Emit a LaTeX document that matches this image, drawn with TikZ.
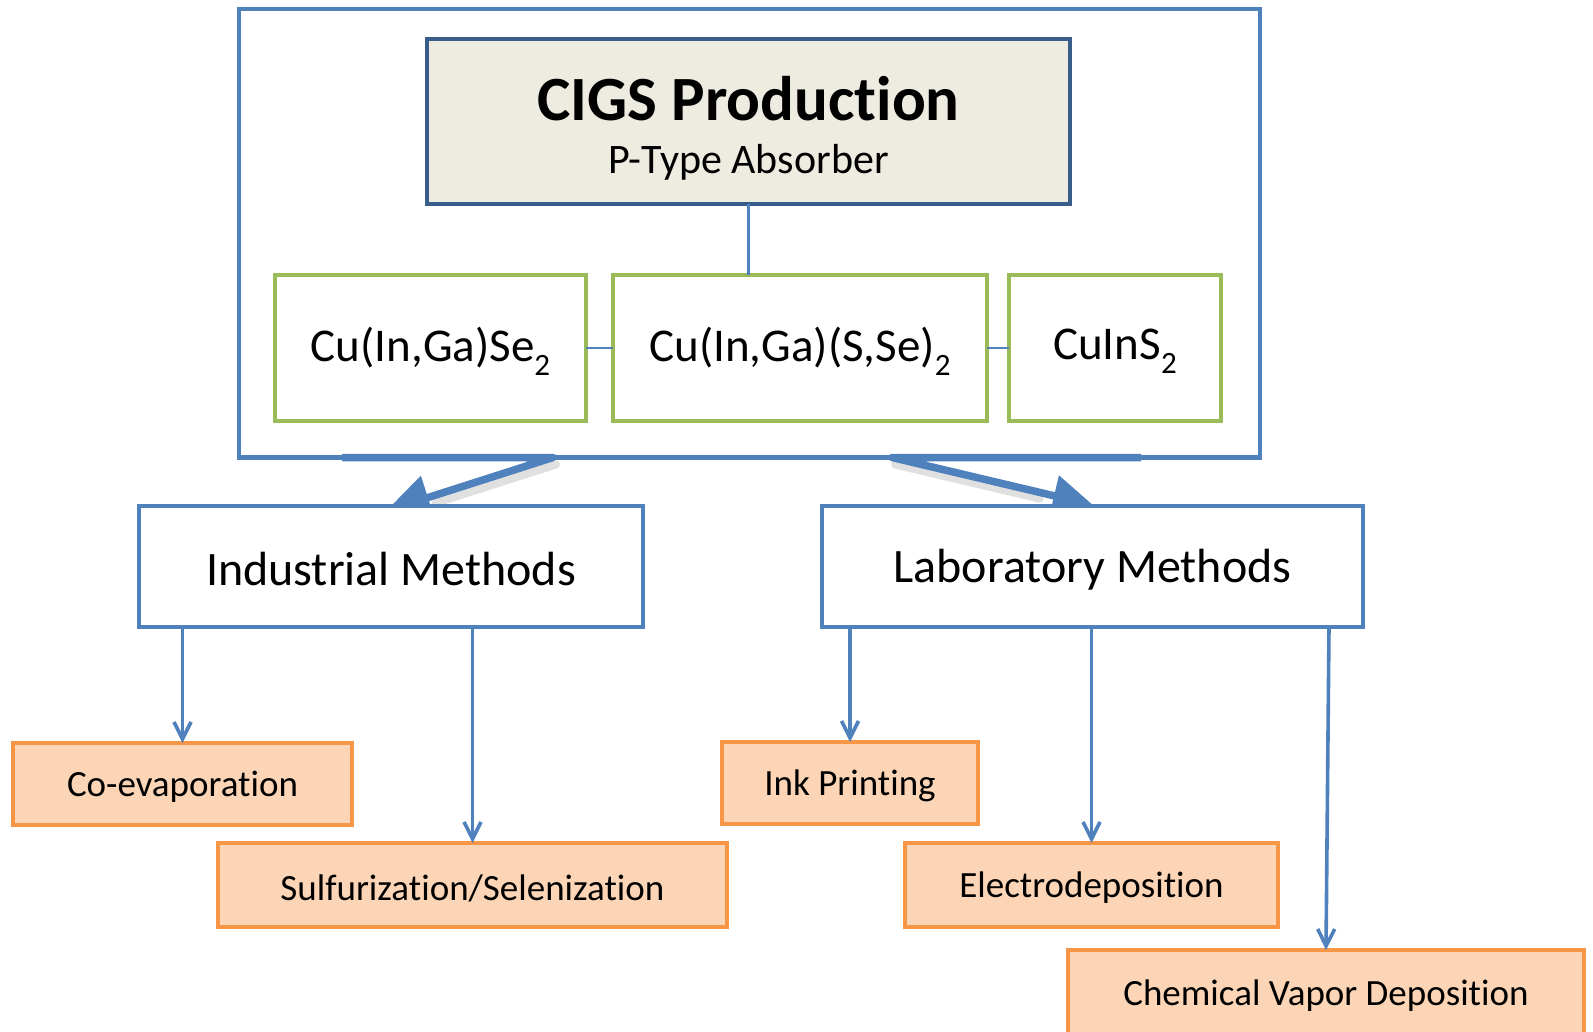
\documentclass[tikz,border=0pt]{standalone}
\usepackage{fontspec}
\setmainfont{Carlito}[Ligatures={NoCommon,NoContextual}, RawFeature={-liga;-clig;-calt;-dlig}]
\usetikzlibrary{arrows.meta,calc}
\definecolor{bline}{HTML}{4F81BD}
\definecolor{tborder}{HTML}{385D8A}
\definecolor{tfill}{HTML}{EEECE1}
\definecolor{gline}{HTML}{9BBB59}
\definecolor{oline}{HTML}{F79646}
\definecolor{ofill}{HTML}{FBD5B5}
\newcommand\lowsub[1]{\raisebox{-0.3em}{\scalebox{0.66}{#1}}}
\newcommand\dn[1]{\raisebox{-3pt}[\height][\depth]{#1}}
\newcommand\tsep{t\kern0pt i}
\begin{document}
\begin{tikzpicture}[x=1pt,y=-1pt,
  rbox/.style 2 args={rectangle, inner sep=0pt, outer sep=0pt, minimum width=#1, minimum height=#2},
  outerbox/.style={draw=bline, line width=4.5pt},
  titlebox/.style={draw=tborder, fill=tfill, line width=4pt},
  greenbox/.style={draw=gline, fill=white, line width=4pt, font=\fontsize{47}{47}\selectfont},
  methodbox/.style={draw=bline, fill=white, line width=4pt, font=\fontsize{48}{48}\selectfont},
  orangebox/.style={draw=oline, fill=ofill, line width=4pt, font=\fontsize{37}{37}\selectfont},
  bigarrow/.style={draw=bline, line width=7.5pt, line join=round, -{Triangle[width=#1, length=#1]}},
  shadowline/.style={draw=black, opacity=0.12, line width=8pt, line cap=round},
  thinarrow/.style={draw=bline, line width=3.6pt, -{Straight Barb[length=17pt, width=17pt]}},
  link/.style={draw=bline, line width=2pt},
  stem/.style={draw=bline, line width=3.2pt}
]
\useasboundingbox (0,0) rectangle (1593,1032);

% outer frame
\node[rbox={1021pt}{448.5pt}, outerbox] (frame) at (749.5,233.25) {};

% big arrows (drawn before method boxes so that their tips are hidden)
\coordinate (la) at (342,457.5);
\coordinate (lb) at (553,457.5);
\coordinate (lt) at (386,511);
\coordinate (ra) at (1141,457.5);
\coordinate (rb) at (892,457.5);
\coordinate (rt) at (1093,505);
\draw[shadowline] ($(lb)+(3,7)$) -- ($(lb)!0.72!(lt)+(3,7)$);
\draw[shadowline] ($(rb)+(3,7)$) -- ($(rb)!0.72!(rt)+(3,7)$);
\draw[bigarrow=44pt] (la) -- (lb) -- (lt);
\draw[bigarrow=40pt] (ra) -- (rb) -- (rt);

% title
\node[rbox={643pt}{165pt}, titlebox] (title) at (748.5,121.5) {};
\node[font=\fontsize{63}{63}\selectfont\bfseries] (titleA) at (748.5,99) {CIGS Produc\tsep on};
\node[font=\fontsize{42}{42}\selectfont] (titleB) at (748.5,162) {P-Type Absorber};

% green boxes
\node[rbox={311pt}{146pt}, greenbox] (g1) at (430.5,348) {\dn{Cu(In,Ga)Se\lowsub{2}}};
\node[rbox={374pt}{146pt}, greenbox] (g2) at (800,348) {\dn{Cu(In,Ga)(S,Se)\lowsub{2}}};
\node[rbox={212pt}{146pt}, greenbox] (g3) at (1115,348) {\dn{CuInS\lowsub{2}}};
\draw[stem] (title.south) -- (title.south |- g2.north);
\draw[link] (g1.east) -- (g2.west);
\draw[link] (g2.east) -- (g3.west);

% method boxes
\node[rbox={504pt}{121pt}, methodbox] (ind) at (391,566.5) {\dn{Industrial Methods}};
\node[rbox={541pt}{121pt}, methodbox] (lab) at (1092.5,566.5) {\dn{Laboratory Methods}};

% orange boxes
\node[rbox={339pt}{82pt}, orangebox] (coev) at (182.5,784) {\dn{Co-evapora\tsep on}};
\node[rbox={509pt}{84pt}, orangebox] (sulf) at (472.5,885) {\dn{Sulfuriza\tsep on/Seleniza\tsep on}};
\node[rbox={256pt}{82pt}, orangebox] (ink) at (850,783) {\dn{Ink Prin\tsep ng}};
\node[rbox={373pt}{84pt}, orangebox] (elec) at (1091.5,885) {\dn{Electrodeposi\tsep on}};
\node[rbox={516pt}{86pt}, orangebox] (cvd) at (1326,993) {\dn{Chemical Vapor Deposi\tsep on}};

% thin arrows
\draw[thinarrow] (ind.south -| coev.north) -- (coev.north);
\draw[thinarrow] (ind.south -| sulf.north) -- (sulf.north);
\draw[thinarrow] (lab.south -| ink.north) -- (ink.north);
\draw[thinarrow] (lab.south -| elec.north) -- (elec.north);
\coordinate (cvdtop) at (1329,627);
\draw[thinarrow] (cvdtop) -- (cvd.north);
\end{tikzpicture}
\end{document}
